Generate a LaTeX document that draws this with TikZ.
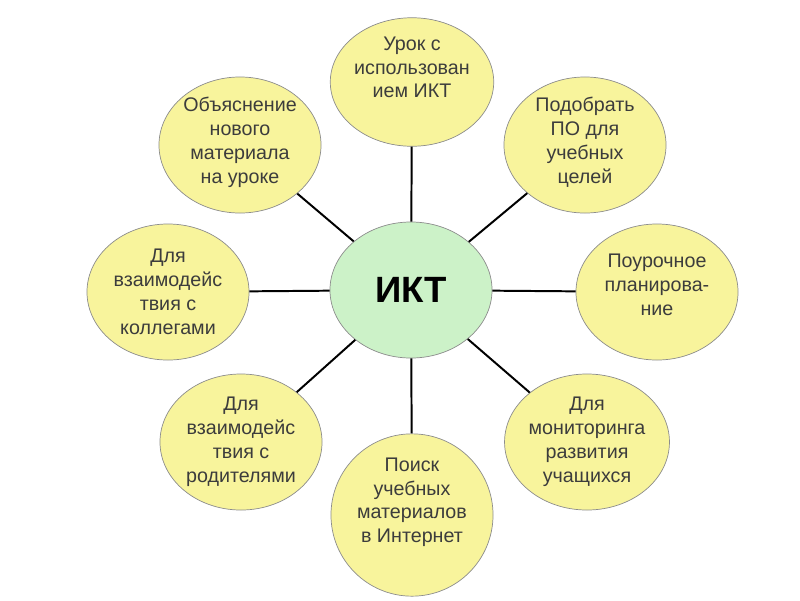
\documentclass[tikz,border=0pt]{standalone}
\usepackage{fontspec}
\setmainfont{Liberation Sans}
\usetikzlibrary{shapes.geometric}
\definecolor{bubbleyellow}{HTML}{F8F49C}
\definecolor{bubblegreen}{HTML}{CCF2C8}
\definecolor{textgray}{HTML}{3C3C3C}
\tikzset{
  bubble/.style={ellipse, draw=black!45, line width=0.5pt, fill=bubbleyellow,
    minimum width=4.05cm, minimum height=3.4cm, inner sep=0pt, align=center,
    text=textgray, font=\fontsize{14}{17}\selectfont},
  hub/.style={bubble, fill=bubblegreen, text=black,
    font=\fontsize{26}{30}\selectfont\bfseries},
  spoke/.style={line width=1.4pt}
}
\begin{document}
\begin{tikzpicture}[x=0.025cm,y=-0.025cm]
\useasboundingbox (0,0) rectangle (800,600);
\node[hub] (ikt) at (411,290) {ИКТ};
\node[bubble, minimum height=3.2cm] (urok) at (412,82) {Урок с\\использован\\ием ИКТ\\[4pt]\mbox{}};
\node[bubble] (podobrat) at (585,145) {Подобрать\\ПО для\\учебных\\целей\\[-10pt]\mbox{}};
\node[bubble] (plan) at (657,292) {Поурочное\\планирова-\\ние\\[-6.5pt]\mbox{}};
\node[bubble] (monitor) at (587,442) {Для\\мониторинга\\развития\\учащихся};
\node[bubble, minimum height=3.5cm] (poisk) at (412,515) {Поиск\\учебных\\материалов\\в Интернет\\[4pt]\mbox{}};
\node[bubble] (roditeli) at (241,442) {Для\\взаимодейс\\твия с\\родителями};
\node[bubble] (kollegi) at (168,292) {Для\\взаимодейс\\твия с\\коллегами};
\node[bubble] (obyasn) at (240,145) {Объяснение\\нового\\материала\\на уроке\\[-10pt]\mbox{}};
\foreach \b in {urok,podobrat,plan,monitor,poisk,roditeli,kollegi,obyasn}
  \draw[spoke] (ikt) -- (\b);
\end{tikzpicture}
\end{document}
